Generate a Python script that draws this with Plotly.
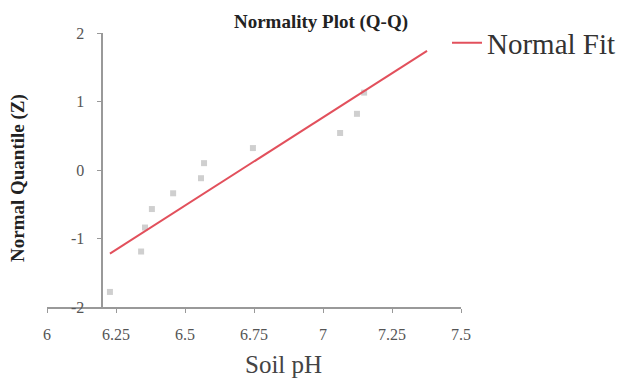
import plotly.graph_objects as go

# Data
soil_ph = [6.228, 6.341, 6.355, 6.380, 6.457, 6.558, 6.569, 6.746, 7.062, 7.123, 7.149]
normal_z = [-1.78, -1.19, -0.84, -0.57, -0.34, -0.12, 0.10, 0.32, 0.54, 0.82, 1.13]
fit_x = [6.228, 7.377]
fit_y = [-1.22, 1.74]

x_ticks = [6, 6.25, 6.5, 6.75, 7, 7.25, 7.5]
x_tick_text = ["6", "6.25", "6.5", "6.75", "7", "7.25", "7.5"]
y_ticks = [-2, -1, 0, 1, 2]
y_tick_text = ["-2", "-1", "0", "1", "2"]

FONT = "Liberation Serif"

fig = go.Figure()
fig.add_trace(go.Scatter(
    x=soil_ph, y=normal_z, mode="markers", name="Data", showlegend=False,
    marker=dict(symbol="square", size=6, color="#cfcfcf"),
))
fig.add_trace(go.Scatter(
    x=fit_x, y=fit_y, mode="lines", name="Normal Fit",
    line=dict(color="#e2505c", width=2),
))

fig.update_layout(
    width=626, height=381,
    margin=dict(l=47, r=165, t=33, b=74, autoexpand=False),
    paper_bgcolor="white", plot_bgcolor="white",
    font=dict(family=FONT, color="#444"),
    title=dict(text="<b>Normality Plot (Q-Q)</b>", xref="container", yref="container",
               x=321 / 626, y=1 - 21 / 381, xanchor="center", yanchor="middle",
               font=dict(family=FONT, size=19, color="#222")),
    xaxis=dict(range=[6, 7.5], tickvals=x_ticks, ticktext=x_tick_text,
               showgrid=False, zeroline=False, showline=True, linecolor="#999",
               linewidth=1.5, ticks="outside", ticklen=4, tickcolor="#999",
               tickfont=dict(family=FONT, size=16, color="#555"),
               ticklabelstandoff=8, domain=[0, 1]),
    yaxis=dict(range=[-2, 2], tickvals=y_ticks, ticktext=y_tick_text,
               anchor="free", position=0.2 / 1.5,
               showgrid=False, zeroline=False, showline=True, linecolor="#999",
               linewidth=1.5, ticks="outside", ticklen=4, tickcolor="#999",
               tickfont=dict(family=FONT, size=16, color="#555"),
               ticklabelstandoff=10),
    showlegend=True,
    legend=dict(x=(447 - 47) / 414, y=1 - (43 - 33) / 274, xanchor="left", yanchor="middle",
                bgcolor="rgba(0,0,0,0)", font=dict(family=FONT, size=29, color="#333"),
                itemwidth=30),
    annotations=[
        dict(text="<b>Normal Quantile (Z)</b>", xref="paper", yref="paper",
             x=(18 - 47) / 414, y=1 - (178 - 33) / 274, textangle=-90,
             showarrow=False, xanchor="center", yanchor="middle",
             font=dict(family=FONT, size=19, color="#222")),
        dict(text="Soil pH", xref="paper", yref="paper",
             x=(283 - 47) / 414, y=1 - (364 - 33) / 274,
             showarrow=False, xanchor="center", yanchor="middle",
             font=dict(family=FONT, size=25, color="#444")),
    ],
)

fig.write_html("out.html", config={"displayModeBar": False},
               post_script="document.body.style.margin='0';")
